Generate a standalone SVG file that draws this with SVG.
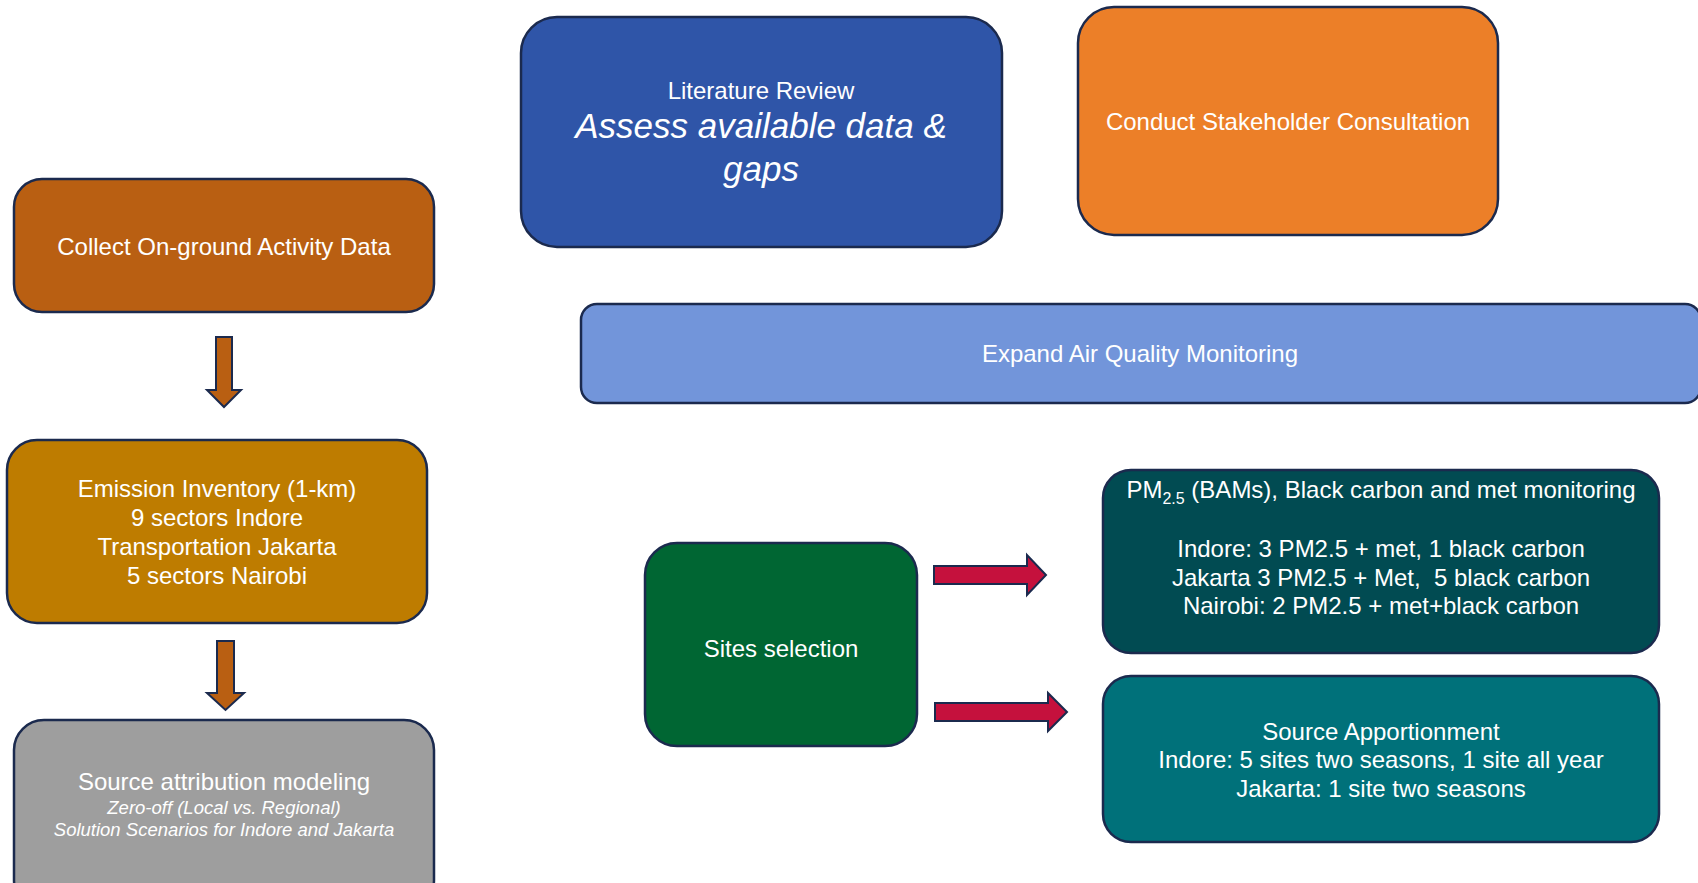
<svg xmlns="http://www.w3.org/2000/svg" width="1698" height="883" viewBox="0 0 1698 883">
<style>
.box{stroke:#1B2A4E;stroke-width:2.5}
.t{font-family:"Liberation Sans",Arial,sans-serif;font-size:24px;fill:#FFFFFF;text-anchor:middle}
.it{font-style:italic}
.arr{stroke:#1B2A4E;stroke-width:2}
</style>
<rect width="1698" height="883" fill="#FFFFFF"/>

<g id="collect">
<rect class="box" x="14" y="179" width="420" height="133" rx="28" fill="#B95F12"/>
<text class="t" x="224" y="255">Collect On-ground Activity Data</text>
</g>

<g id="emission">
<rect class="box" x="7" y="440" width="420" height="183" rx="30" fill="#BE7C00"/>
<text class="t" x="217" y="497">Emission Inventory (1-km)</text>
<text class="t" x="217" y="526">9 sectors Indore</text>
<text class="t" x="217" y="555">Transportation Jakarta</text>
<text class="t" x="217" y="584">5 sectors Nairobi</text>
</g>

<g id="attribution">
<rect class="box" x="14" y="720" width="420" height="190" rx="30" fill="#9E9E9E"/>
<text class="t" x="224" y="790">Source attribution modeling</text>
<text class="t it" x="224" y="814" style="font-size:18.5px">Zero-off (Local vs. Regional)</text>
<text class="t it" x="224" y="836" style="font-size:18.5px">Solution Scenarios for Indore and Jakarta</text>
</g>

<g id="literature">
<rect class="box" x="521" y="17" width="481" height="230" rx="36" fill="#2F55A8"/>
<text class="t" x="761" y="99">Literature Review</text>
<text class="t it" x="761" y="138" style="font-size:35px">Assess available data &amp;</text>
<text class="t it" x="761" y="181" style="font-size:35px">gaps</text>
</g>

<g id="stakeholder">
<rect class="box" x="1078" y="7" width="420" height="228" rx="36" fill="#EC7F28"/>
<text class="t" x="1288" y="130">Conduct Stakeholder Consultation</text>
</g>

<g id="monitoring">
<rect class="box" x="581" y="304" width="1120" height="99" rx="16" fill="#7295DA"/>
<text class="t" x="1140" y="362">Expand Air Quality Monitoring</text>
</g>

<g id="sites">
<rect class="box" x="645" y="543" width="272" height="203" rx="32" fill="#006633"/>
<text class="t" x="781" y="657">Sites selection</text>
</g>

<g id="pm">
<rect class="box" x="1103" y="470" width="556" height="183" rx="28" fill="#014B52"/>
<text class="t" x="1381" y="498">PM<tspan style="font-size:16px" dy="6">2.5</tspan><tspan dy="-6"> (BAMs), Black carbon and met monitoring</tspan></text>
<text class="t" x="1381" y="557">Indore: 3 PM2.5 + met, 1 black carbon</text>
<text class="t" x="1381" y="586" xml:space="preserve">Jakarta 3 PM2.5 + Met,  5 black carbon</text>
<text class="t" x="1381" y="614">Nairobi: 2 PM2.5 + met+black carbon</text>
</g>

<g id="apportionment">
<rect class="box" x="1103" y="676" width="556" height="166" rx="28" fill="#00717A"/>
<text class="t" x="1381" y="740">Source Apportionment</text>
<text class="t" x="1381" y="768">Indore: 5 sites two seasons, 1 site all year</text>
<text class="t" x="1381" y="797">Jakarta: 1 site two seasons</text>
</g>

<g id="connectors">
<polygon class="arr" fill="#B95F12" points="216,337 232,337 232,390 241,390 224,407 207,390 216,390"/>
<polygon class="arr" fill="#B95F12" points="217,641 234,641 234,693 244,693 225.5,710 207,693 217,693"/>
<polygon class="arr" fill="#C5113D" points="934,566 1027,566 1027,555 1046,575 1027,595 1027,584 934,584"/>
<polygon class="arr" fill="#C5113D" points="935,703 1048,703 1048,693 1067,712 1048,731 1048,721 935,721"/>
</g>
</svg>
